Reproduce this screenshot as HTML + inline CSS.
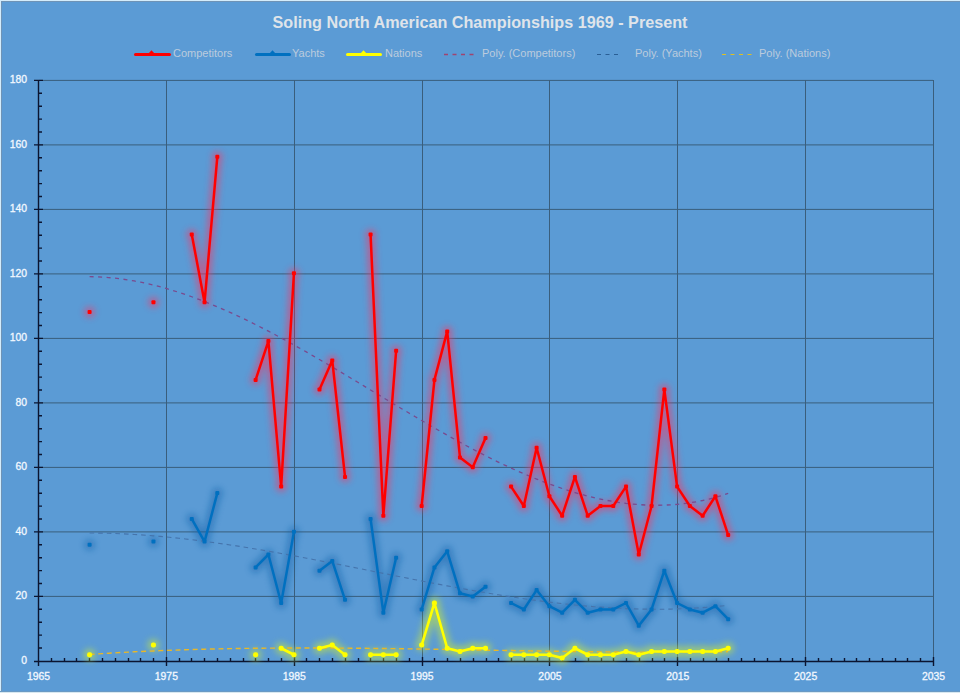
<!DOCTYPE html><html><head><meta charset="utf-8"><style>html,body{margin:0;padding:0}body{width:960px;height:693px;overflow:hidden;background:#5B9BD5}svg{display:block}text{font-family:"Liberation Sans",sans-serif}</style></head><body><svg width="960" height="693" viewBox="0 0 960 693"><defs><filter id="g2" x="0" y="0" width="960" height="693" filterUnits="userSpaceOnUse"><feGaussianBlur stdDeviation="3.4"/></filter></defs><rect x="0" y="0" width="960" height="693" fill="#5B9BD5"/><rect x="0" y="0" width="960" height="1" fill="#d4ecfb"/><rect x="0" y="1" width="960" height="1" fill="#6f93b5"/><rect x="0" y="0" width="1" height="693" fill="#d4ecfb"/><rect x="1" y="1" width="1" height="692" fill="#6f93b5"/><rect x="0" y="692" width="960" height="1" fill="#d8e8f0"/><rect x="0" y="691" width="960" height="1" fill="#6a9ac4"/><path d="M39 80.4H933M39 144.9H933M39 209.4H933M39 273.9H933M39 338.4H933M39 402.9H933M39 467.4H933M39 531.9H933M39 596.4H933M166.5 80V661M294.5 80V661M422.5 80V661M549.5 80V661M677.5 80V661M805.5 80V661M933.5 80V661" stroke="#3a5e7c" stroke-width="1" fill="none"/><path d="M38.5 80V666M34 661.5H934M34 80.4H43M39 93.3H42M39 106.2H42M39 119.1H42M39 132H42M34 144.9H43M39 157.8H42M39 170.7H42M39 183.6H42M39 196.5H42M34 209.4H43M39 222.3H42M39 235.2H42M39 248.1H42M39 261H42M34 273.9H43M39 286.8H42M39 299.7H42M39 312.6H42M39 325.5H42M34 338.4H43M39 351.3H42M39 364.2H42M39 377.1H42M39 390H42M34 402.9H43M39 415.8H42M39 428.7H42M39 441.6H42M39 454.5H42M34 467.4H43M39 480.3H42M39 493.2H42M39 506.1H42M39 519H42M34 531.9H43M39 544.8H42M39 557.7H42M39 570.6H42M39 583.5H42M34 596.4H43M39 609.3H42M39 622.2H42M39 635.1H42M39 648H42M34 661.5H43M38.5 657V666M51.5 658V661M64.5 658V661M76.5 658V661M89.5 658V661M102.5 658V661M115.5 658V661M128.5 658V661M140.5 658V661M153.5 658V661M166.5 657V666M179.5 658V661M191.5 658V661M204.5 658V661M217.5 658V661M230.5 658V661M243.5 658V661M255.5 658V661M268.5 658V661M281.5 658V661M294.5 657V666M306.5 658V661M319.5 658V661M332.5 658V661M345.5 658V661M358.5 658V661M370.5 658V661M383.5 658V661M396.5 658V661M409.5 658V661M422.5 657V666M434.5 658V661M447.5 658V661M460.5 658V661M473.5 658V661M486.5 658V661M498.5 658V661M511.5 658V661M524.5 658V661M537.5 658V661M549.5 657V666M562.5 658V661M575.5 658V661M588.5 658V661M601.5 658V661M613.5 658V661M626.5 658V661M639.5 658V661M652.5 658V661M664.5 658V661M677.5 657V666M690.5 658V661M703.5 658V661M716.5 658V661M728.5 658V661M741.5 658V661M754.5 658V661M767.5 658V661M780.5 658V661M792.5 658V661M805.5 657V666M818.5 658V661M831.5 658V661M844.5 658V661M856.5 658V661M869.5 658V661M882.5 658V661M895.5 658V661M907.5 658V661M920.5 658V661M933.5 657V666" stroke="#0b1430" stroke-width="1.4" fill="none"/><g fill="#f2f8ff" stroke="#f2f8ff" stroke-width="0.3" font-size="10.4"><text x="27" y="83" text-anchor="end">180</text><text x="27" y="147.56" text-anchor="end">160</text><text x="27" y="212.11" text-anchor="end">140</text><text x="27" y="276.67" text-anchor="end">120</text><text x="27" y="341.22" text-anchor="end">100</text><text x="27" y="405.78" text-anchor="end">80</text><text x="27" y="470.33" text-anchor="end">60</text><text x="27" y="534.89" text-anchor="end">40</text><text x="27" y="599.44" text-anchor="end">20</text><text x="27" y="664" text-anchor="end">0</text><text x="38.5" y="680" text-anchor="middle">1965</text><text x="166.36" y="680" text-anchor="middle">1975</text><text x="294.21" y="680" text-anchor="middle">1985</text><text x="422.07" y="680" text-anchor="middle">1995</text><text x="549.93" y="680" text-anchor="middle">2005</text><text x="677.79" y="680" text-anchor="middle">2015</text><text x="805.64" y="680" text-anchor="middle">2025</text><text x="933.5" y="680" text-anchor="middle">2035</text></g><text x="480" y="28" text-anchor="middle" font-size="16.2" font-weight="bold" fill="#dfe4ea">Soling North American Championships 1969 - Present</text><g fill="#bccbdd" font-size="11"><path d="M135.5 54.4H169.5" stroke="#ff0000" stroke-width="3" stroke-linecap="round"/><path d="M147.5 54.5L151.5 50.3L155.5 54.5Z" fill="#ff0000"/><text x="173" y="57">Competitors</text><path d="M256.5 54.4H289.5" stroke="#0070c0" stroke-width="3" stroke-linecap="round"/><path d="M268.5 54.5L272.5 50.3L276.5 54.5Z" fill="#0070c0"/><text x="292" y="57">Yachts</text><path d="M347.5 54.4H380.5" stroke="#ffff00" stroke-width="3" stroke-linecap="round"/><path d="M359.5 54.5L363.5 50.3L367.5 54.5Z" fill="#ffff00"/><text x="385" y="57">Nations</text><path d="M444 54.5H477" stroke="#a04470" stroke-width="1.3" stroke-dasharray="4 4.5"/><text x="482" y="57">Poly. (Competitors)</text><path d="M597 54.5H622" stroke="#2a5f95" stroke-width="1.2" stroke-dasharray="4 4.5"/><text x="635" y="57">Poly. (Yachts)</text><path d="M722 54.5H756" stroke="#e0c020" stroke-width="1.2" stroke-dasharray="4 4.5"/><text x="759" y="57">Poly. (Nations)</text></g><g filter="url(#g2)" opacity="0.5"><path d="M191.76 234.4 L204.54 302.3 L217.31 156.8M255.62 379.9 L268.4 341.1 L281.17 486.6 L293.94 273.2M319.48 389.6 L332.26 360.5 L345.03 476.9M370.57 234.4 L383.34 515.7 L396.12 350.8M421.66 506 L434.43 379.9 L447.2 331.4 L459.98 457.5 L472.75 467.2 L485.52 438.1M511.06 486.6 L523.84 506 L536.61 447.8 L549.38 496.3 L562.15 515.7 L574.92 476.9 L587.7 515.7 L600.47 506 L613.24 506 L626.01 486.6 L638.78 554.5 L651.56 506 L664.33 389.6 L677.1 486.6 L689.87 506 L702.64 515.7 L715.42 496.3 L728.19 535.1" stroke="#ff3060" stroke-width="9" fill="none" stroke-linejoin="round" stroke-linecap="round"/><g fill="#ff3060"><circle cx="89.59" cy="312" r="5.5"/><circle cx="153.45" cy="302.3" r="5.5"/><circle cx="191.76" cy="234.4" r="5.5"/><circle cx="204.54" cy="302.3" r="5.5"/><circle cx="217.31" cy="156.8" r="5.5"/><circle cx="255.62" cy="379.9" r="5.5"/><circle cx="268.4" cy="341.1" r="5.5"/><circle cx="281.17" cy="486.6" r="5.5"/><circle cx="293.94" cy="273.2" r="5.5"/><circle cx="319.48" cy="389.6" r="5.5"/><circle cx="332.26" cy="360.5" r="5.5"/><circle cx="345.03" cy="476.9" r="5.5"/><circle cx="370.57" cy="234.4" r="5.5"/><circle cx="383.34" cy="515.7" r="5.5"/><circle cx="396.12" cy="350.8" r="5.5"/><circle cx="421.66" cy="506" r="5.5"/><circle cx="434.43" cy="379.9" r="5.5"/><circle cx="447.2" cy="331.4" r="5.5"/><circle cx="459.98" cy="457.5" r="5.5"/><circle cx="472.75" cy="467.2" r="5.5"/><circle cx="485.52" cy="438.1" r="5.5"/><circle cx="511.06" cy="486.6" r="5.5"/><circle cx="523.84" cy="506" r="5.5"/><circle cx="536.61" cy="447.8" r="5.5"/><circle cx="549.38" cy="496.3" r="5.5"/><circle cx="562.15" cy="515.7" r="5.5"/><circle cx="574.92" cy="476.9" r="5.5"/><circle cx="587.7" cy="515.7" r="5.5"/><circle cx="600.47" cy="506" r="5.5"/><circle cx="613.24" cy="506" r="5.5"/><circle cx="626.01" cy="486.6" r="5.5"/><circle cx="638.78" cy="554.5" r="5.5"/><circle cx="651.56" cy="506" r="5.5"/><circle cx="664.33" cy="389.6" r="5.5"/><circle cx="677.1" cy="486.6" r="5.5"/><circle cx="689.87" cy="506" r="5.5"/><circle cx="702.64" cy="515.7" r="5.5"/><circle cx="715.42" cy="496.3" r="5.5"/><circle cx="728.19" cy="535.1" r="5.5"/></g></g><g filter="url(#g2)" opacity="0.45"><path d="M191.76 518.93 L204.54 541.57 L217.31 493.07M255.62 567.43 L268.4 554.5 L281.17 603 L293.94 531.87M319.48 570.67 L332.26 560.97 L345.03 599.77M370.57 518.93 L383.34 612.7 L396.12 557.73M421.66 609.47 L434.43 567.43 L447.2 551.27 L459.98 593.3 L472.75 596.53 L485.52 586.83M511.06 603 L523.84 609.47 L536.61 590.07 L549.38 606.23 L562.15 612.7 L574.92 599.77 L587.7 612.7 L600.47 609.47 L613.24 609.47 L626.01 603 L638.78 625.63 L651.56 609.47 L664.33 570.67 L677.1 603 L689.87 609.47 L702.64 612.7 L715.42 606.23 L728.19 619.17" stroke="#0a5ea8" stroke-width="9" fill="none" stroke-linejoin="round" stroke-linecap="round"/><g fill="#0a5ea8"><circle cx="89.59" cy="544.8" r="5.5"/><circle cx="153.45" cy="541.57" r="5.5"/><circle cx="191.76" cy="518.93" r="5.5"/><circle cx="204.54" cy="541.57" r="5.5"/><circle cx="217.31" cy="493.07" r="5.5"/><circle cx="255.62" cy="567.43" r="5.5"/><circle cx="268.4" cy="554.5" r="5.5"/><circle cx="281.17" cy="603" r="5.5"/><circle cx="293.94" cy="531.87" r="5.5"/><circle cx="319.48" cy="570.67" r="5.5"/><circle cx="332.26" cy="560.97" r="5.5"/><circle cx="345.03" cy="599.77" r="5.5"/><circle cx="370.57" cy="518.93" r="5.5"/><circle cx="383.34" cy="612.7" r="5.5"/><circle cx="396.12" cy="557.73" r="5.5"/><circle cx="421.66" cy="609.47" r="5.5"/><circle cx="434.43" cy="567.43" r="5.5"/><circle cx="447.2" cy="551.27" r="5.5"/><circle cx="459.98" cy="593.3" r="5.5"/><circle cx="472.75" cy="596.53" r="5.5"/><circle cx="485.52" cy="586.83" r="5.5"/><circle cx="511.06" cy="603" r="5.5"/><circle cx="523.84" cy="609.47" r="5.5"/><circle cx="536.61" cy="590.07" r="5.5"/><circle cx="549.38" cy="606.23" r="5.5"/><circle cx="562.15" cy="612.7" r="5.5"/><circle cx="574.92" cy="599.77" r="5.5"/><circle cx="587.7" cy="612.7" r="5.5"/><circle cx="600.47" cy="609.47" r="5.5"/><circle cx="613.24" cy="609.47" r="5.5"/><circle cx="626.01" cy="603" r="5.5"/><circle cx="638.78" cy="625.63" r="5.5"/><circle cx="651.56" cy="609.47" r="5.5"/><circle cx="664.33" cy="570.67" r="5.5"/><circle cx="677.1" cy="603" r="5.5"/><circle cx="689.87" cy="609.47" r="5.5"/><circle cx="702.64" cy="612.7" r="5.5"/><circle cx="715.42" cy="606.23" r="5.5"/><circle cx="728.19" cy="619.17" r="5.5"/></g></g><g filter="url(#g2)" opacity="0.55"><path d="M281.17 648.27 L293.94 654.73M319.48 648.27 L332.26 645.03 L345.03 654.73M370.57 654.73 L383.34 654.73 L396.12 654.73M421.66 645.03 L434.43 603 L447.2 648.27 L459.98 651.5 L472.75 648.27 L485.52 648.27M511.06 654.73 L523.84 654.73 L536.61 654.73 L549.38 654.73 L562.15 657.97 L574.92 648.27 L587.7 654.73 L600.47 654.73 L613.24 654.73 L626.01 651.5 L638.78 654.73 L651.56 651.5 L664.33 651.5 L677.1 651.5 L689.87 651.5 L702.64 651.5 L715.42 651.5 L728.19 648.27" stroke="#c8e838" stroke-width="10" fill="none" stroke-linejoin="round" stroke-linecap="round"/><g fill="#c8e838"><circle cx="89.59" cy="654.73" r="6"/><circle cx="153.45" cy="645.03" r="6"/><circle cx="255.62" cy="654.73" r="6"/><circle cx="281.17" cy="648.27" r="6"/><circle cx="293.94" cy="654.73" r="6"/><circle cx="319.48" cy="648.27" r="6"/><circle cx="332.26" cy="645.03" r="6"/><circle cx="345.03" cy="654.73" r="6"/><circle cx="370.57" cy="654.73" r="6"/><circle cx="383.34" cy="654.73" r="6"/><circle cx="396.12" cy="654.73" r="6"/><circle cx="421.66" cy="645.03" r="6"/><circle cx="434.43" cy="603" r="6"/><circle cx="447.2" cy="648.27" r="6"/><circle cx="459.98" cy="651.5" r="6"/><circle cx="472.75" cy="648.27" r="6"/><circle cx="485.52" cy="648.27" r="6"/><circle cx="511.06" cy="654.73" r="6"/><circle cx="523.84" cy="654.73" r="6"/><circle cx="536.61" cy="654.73" r="6"/><circle cx="549.38" cy="654.73" r="6"/><circle cx="562.15" cy="657.97" r="6"/><circle cx="574.92" cy="648.27" r="6"/><circle cx="587.7" cy="654.73" r="6"/><circle cx="600.47" cy="654.73" r="6"/><circle cx="613.24" cy="654.73" r="6"/><circle cx="626.01" cy="651.5" r="6"/><circle cx="638.78" cy="654.73" r="6"/><circle cx="651.56" cy="651.5" r="6"/><circle cx="664.33" cy="651.5" r="6"/><circle cx="677.1" cy="651.5" r="6"/><circle cx="689.87" cy="651.5" r="6"/><circle cx="702.64" cy="651.5" r="6"/><circle cx="715.42" cy="651.5" r="6"/><circle cx="728.19" cy="648.27" r="6"/></g></g><path d="M89.59 276.67 L95.97 276.8 L102.36 277.1 L108.75 277.56 L115.13 278.19 L121.52 278.97 L127.9 279.9 L134.29 280.98 L140.68 282.21 L147.06 283.57 L153.45 285.08 L159.83 286.72 L166.22 288.48 L172.61 290.37 L178.99 292.39 L185.38 294.52 L191.76 296.76 L198.15 299.12 L204.54 301.58 L210.92 304.14 L217.31 306.8 L223.69 309.56 L230.08 312.4 L236.47 315.33 L242.85 318.35 L249.24 321.44 L255.62 324.61 L262.01 327.85 L268.4 331.16 L274.78 334.53 L281.17 337.95 L287.55 341.44 L293.94 344.97 L300.33 348.56 L306.71 352.18 L313.1 355.85 L319.48 359.55 L325.87 363.29 L332.26 367.05 L338.64 370.84 L345.03 374.65 L351.41 378.47 L357.8 382.31 L364.19 386.15 L370.57 390.01 L376.96 393.86 L383.34 397.71 L389.73 401.55 L396.12 405.38 L402.5 409.2 L408.89 412.99 L415.27 416.77 L421.66 420.52 L428.05 424.24 L434.43 427.92 L440.82 431.57 L447.2 435.18 L453.59 438.74 L459.98 442.25 L466.36 445.7 L472.75 449.1 L479.13 452.44 L485.52 455.72 L491.91 458.92 L498.29 462.05 L504.68 465.11 L511.06 468.08 L517.45 470.97 L523.84 473.77 L530.22 476.48 L536.61 479.09 L542.99 481.6 L549.38 484.01 L555.77 486.31 L562.15 488.5 L568.54 490.57 L574.92 492.52 L581.31 494.35 L587.7 496.06 L594.08 497.63 L600.47 499.06 L606.85 500.36 L613.24 501.51 L619.63 502.52 L626.01 503.38 L632.4 504.08 L638.78 504.62 L645.17 505 L651.56 505.22 L657.94 505.26 L664.33 505.14 L670.71 504.83 L677.1 504.34 L683.49 503.67 L689.87 502.8 L696.26 501.74 L702.64 500.49 L709.03 499.03 L715.42 497.37 L721.8 495.5 L728.19 493.42" stroke="#7a4a8e" stroke-width="1.3" fill="none" stroke-dasharray="4 4.5"/><path d="M89.59 533.02 L95.97 533.07 L102.36 533.17 L108.75 533.32 L115.13 533.53 L121.52 533.79 L127.9 534.1 L134.29 534.46 L140.68 534.87 L147.06 535.32 L153.45 535.83 L159.83 536.37 L166.22 536.96 L172.61 537.59 L178.99 538.26 L185.38 538.97 L191.76 539.72 L198.15 540.51 L204.54 541.33 L210.92 542.18 L217.31 543.07 L223.69 543.99 L230.08 544.93 L236.47 545.91 L242.85 546.92 L249.24 547.95 L255.62 549 L262.01 550.08 L268.4 551.19 L274.78 552.31 L281.17 553.45 L287.55 554.61 L293.94 555.79 L300.33 556.99 L306.71 558.19 L313.1 559.42 L319.48 560.65 L325.87 561.9 L332.26 563.15 L338.64 564.41 L345.03 565.68 L351.41 566.96 L357.8 568.24 L364.19 569.52 L370.57 570.8 L376.96 572.09 L383.34 573.37 L389.73 574.65 L396.12 575.93 L402.5 577.2 L408.89 578.46 L415.27 579.72 L421.66 580.97 L428.05 582.21 L434.43 583.44 L440.82 584.66 L447.2 585.86 L453.59 587.05 L459.98 588.22 L466.36 589.37 L472.75 590.5 L479.13 591.61 L485.52 592.71 L491.91 593.77 L498.29 594.82 L504.68 595.84 L511.06 596.83 L517.45 597.79 L523.84 598.72 L530.22 599.63 L536.61 600.5 L542.99 601.33 L549.38 602.14 L555.77 602.9 L562.15 603.63 L568.54 604.32 L574.92 604.97 L581.31 605.58 L587.7 606.15 L594.08 606.68 L600.47 607.15 L606.85 607.59 L613.24 607.97 L619.63 608.31 L626.01 608.59 L632.4 608.83 L638.78 609.01 L645.17 609.13 L651.56 609.21 L657.94 609.22 L664.33 609.18 L670.71 609.08 L677.1 608.91 L683.49 608.69 L689.87 608.4 L696.26 608.05 L702.64 607.63 L709.03 607.14 L715.42 606.59 L721.8 605.97 L728.19 605.27" stroke="#4574ac" stroke-width="1.1" fill="none" stroke-dasharray="4.6 4"/><path d="M89.59 654.47 L95.97 654.04 L102.36 653.63 L108.75 653.23 L115.13 652.86 L121.52 652.49 L127.9 652.15 L134.29 651.82 L140.68 651.51 L147.06 651.21 L153.45 650.93 L159.83 650.66 L166.22 650.41 L172.61 650.18 L178.99 649.95 L185.38 649.74 L191.76 649.55 L198.15 649.36 L204.54 649.19 L210.92 649.04 L217.31 648.89 L223.69 648.76 L230.08 648.64 L236.47 648.53 L242.85 648.43 L249.24 648.34 L255.62 648.26 L262.01 648.2 L268.4 648.14 L274.78 648.09 L281.17 648.06 L287.55 648.03 L293.94 648.01 L300.33 648 L306.71 647.99 L313.1 648 L319.48 648.01 L325.87 648.03 L332.26 648.06 L338.64 648.1 L345.03 648.14 L351.41 648.18 L357.8 648.24 L364.19 648.3 L370.57 648.36 L376.96 648.43 L383.34 648.51 L389.73 648.58 L396.12 648.67 L402.5 648.75 L408.89 648.85 L415.27 648.94 L421.66 649.04 L428.05 649.14 L434.43 649.24 L440.82 649.34 L447.2 649.45 L453.59 649.56 L459.98 649.67 L466.36 649.78 L472.75 649.89 L479.13 650 L485.52 650.12 L491.91 650.23 L498.29 650.34 L504.68 650.45 L511.06 650.56 L517.45 650.67 L523.84 650.78 L530.22 650.88 L536.61 650.99 L542.99 651.09 L549.38 651.18 L555.77 651.28 L562.15 651.37 L568.54 651.46 L574.92 651.54 L581.31 651.62 L587.7 651.7 L594.08 651.77 L600.47 651.84 L606.85 651.9 L613.24 651.95 L619.63 652 L626.01 652.05 L632.4 652.08 L638.78 652.11 L645.17 652.13 L651.56 652.15 L657.94 652.16 L664.33 652.16 L670.71 652.15 L677.1 652.13 L683.49 652.11 L689.87 652.07 L696.26 652.03 L702.64 651.98 L709.03 651.91 L715.42 651.84 L721.8 651.75 L728.19 651.66" stroke="#e8b828" stroke-width="1.4" fill="none" stroke-dasharray="5 3.6"/><path d="M191.76 234.4 L204.54 302.3 L217.31 156.8M255.62 379.9 L268.4 341.1 L281.17 486.6 L293.94 273.2M319.48 389.6 L332.26 360.5 L345.03 476.9M370.57 234.4 L383.34 515.7 L396.12 350.8M421.66 506 L434.43 379.9 L447.2 331.4 L459.98 457.5 L472.75 467.2 L485.52 438.1M511.06 486.6 L523.84 506 L536.61 447.8 L549.38 496.3 L562.15 515.7 L574.92 476.9 L587.7 515.7 L600.47 506 L613.24 506 L626.01 486.6 L638.78 554.5 L651.56 506 L664.33 389.6 L677.1 486.6 L689.87 506 L702.64 515.7 L715.42 496.3 L728.19 535.1" stroke="#ff0000" stroke-width="2.5" fill="none" stroke-linejoin="round"/><g fill="#ff0000"><rect x="87.59" y="310" width="4" height="4" rx="1"/><rect x="151.45" y="300.3" width="4" height="4" rx="1"/><rect x="189.76" y="232.4" width="4" height="4" rx="1"/><rect x="202.54" y="300.3" width="4" height="4" rx="1"/><rect x="215.31" y="154.8" width="4" height="4" rx="1"/><rect x="253.62" y="377.9" width="4" height="4" rx="1"/><rect x="266.4" y="339.1" width="4" height="4" rx="1"/><rect x="279.17" y="484.6" width="4" height="4" rx="1"/><rect x="291.94" y="271.2" width="4" height="4" rx="1"/><rect x="317.48" y="387.6" width="4" height="4" rx="1"/><rect x="330.26" y="358.5" width="4" height="4" rx="1"/><rect x="343.03" y="474.9" width="4" height="4" rx="1"/><rect x="368.57" y="232.4" width="4" height="4" rx="1"/><rect x="381.34" y="513.7" width="4" height="4" rx="1"/><rect x="394.12" y="348.8" width="4" height="4" rx="1"/><rect x="419.66" y="504" width="4" height="4" rx="1"/><rect x="432.43" y="377.9" width="4" height="4" rx="1"/><rect x="445.2" y="329.4" width="4" height="4" rx="1"/><rect x="457.98" y="455.5" width="4" height="4" rx="1"/><rect x="470.75" y="465.2" width="4" height="4" rx="1"/><rect x="483.52" y="436.1" width="4" height="4" rx="1"/><rect x="509.06" y="484.6" width="4" height="4" rx="1"/><rect x="521.84" y="504" width="4" height="4" rx="1"/><rect x="534.61" y="445.8" width="4" height="4" rx="1"/><rect x="547.38" y="494.3" width="4" height="4" rx="1"/><rect x="560.15" y="513.7" width="4" height="4" rx="1"/><rect x="572.92" y="474.9" width="4" height="4" rx="1"/><rect x="585.7" y="513.7" width="4" height="4" rx="1"/><rect x="598.47" y="504" width="4" height="4" rx="1"/><rect x="611.24" y="504" width="4" height="4" rx="1"/><rect x="624.01" y="484.6" width="4" height="4" rx="1"/><rect x="636.78" y="552.5" width="4" height="4" rx="1"/><rect x="649.56" y="504" width="4" height="4" rx="1"/><rect x="662.33" y="387.6" width="4" height="4" rx="1"/><rect x="675.1" y="484.6" width="4" height="4" rx="1"/><rect x="687.87" y="504" width="4" height="4" rx="1"/><rect x="700.64" y="513.7" width="4" height="4" rx="1"/><rect x="713.42" y="494.3" width="4" height="4" rx="1"/><rect x="726.19" y="533.1" width="4" height="4" rx="1"/></g><path d="M191.76 518.93 L204.54 541.57 L217.31 493.07M255.62 567.43 L268.4 554.5 L281.17 603 L293.94 531.87M319.48 570.67 L332.26 560.97 L345.03 599.77M370.57 518.93 L383.34 612.7 L396.12 557.73M421.66 609.47 L434.43 567.43 L447.2 551.27 L459.98 593.3 L472.75 596.53 L485.52 586.83M511.06 603 L523.84 609.47 L536.61 590.07 L549.38 606.23 L562.15 612.7 L574.92 599.77 L587.7 612.7 L600.47 609.47 L613.24 609.47 L626.01 603 L638.78 625.63 L651.56 609.47 L664.33 570.67 L677.1 603 L689.87 609.47 L702.64 612.7 L715.42 606.23 L728.19 619.17" stroke="#0070c0" stroke-width="2.5" fill="none" stroke-linejoin="round"/><g fill="#0070c0"><rect x="87.59" y="542.8" width="4" height="4" rx="1"/><rect x="151.45" y="539.57" width="4" height="4" rx="1"/><rect x="189.76" y="516.93" width="4" height="4" rx="1"/><rect x="202.54" y="539.57" width="4" height="4" rx="1"/><rect x="215.31" y="491.07" width="4" height="4" rx="1"/><rect x="253.62" y="565.43" width="4" height="4" rx="1"/><rect x="266.4" y="552.5" width="4" height="4" rx="1"/><rect x="279.17" y="601" width="4" height="4" rx="1"/><rect x="291.94" y="529.87" width="4" height="4" rx="1"/><rect x="317.48" y="568.67" width="4" height="4" rx="1"/><rect x="330.26" y="558.97" width="4" height="4" rx="1"/><rect x="343.03" y="597.77" width="4" height="4" rx="1"/><rect x="368.57" y="516.93" width="4" height="4" rx="1"/><rect x="381.34" y="610.7" width="4" height="4" rx="1"/><rect x="394.12" y="555.73" width="4" height="4" rx="1"/><rect x="419.66" y="607.47" width="4" height="4" rx="1"/><rect x="432.43" y="565.43" width="4" height="4" rx="1"/><rect x="445.2" y="549.27" width="4" height="4" rx="1"/><rect x="457.98" y="591.3" width="4" height="4" rx="1"/><rect x="470.75" y="594.53" width="4" height="4" rx="1"/><rect x="483.52" y="584.83" width="4" height="4" rx="1"/><rect x="509.06" y="601" width="4" height="4" rx="1"/><rect x="521.84" y="607.47" width="4" height="4" rx="1"/><rect x="534.61" y="588.07" width="4" height="4" rx="1"/><rect x="547.38" y="604.23" width="4" height="4" rx="1"/><rect x="560.15" y="610.7" width="4" height="4" rx="1"/><rect x="572.92" y="597.77" width="4" height="4" rx="1"/><rect x="585.7" y="610.7" width="4" height="4" rx="1"/><rect x="598.47" y="607.47" width="4" height="4" rx="1"/><rect x="611.24" y="607.47" width="4" height="4" rx="1"/><rect x="624.01" y="601" width="4" height="4" rx="1"/><rect x="636.78" y="623.63" width="4" height="4" rx="1"/><rect x="649.56" y="607.47" width="4" height="4" rx="1"/><rect x="662.33" y="568.67" width="4" height="4" rx="1"/><rect x="675.1" y="601" width="4" height="4" rx="1"/><rect x="687.87" y="607.47" width="4" height="4" rx="1"/><rect x="700.64" y="610.7" width="4" height="4" rx="1"/><rect x="713.42" y="604.23" width="4" height="4" rx="1"/><rect x="726.19" y="617.17" width="4" height="4" rx="1"/></g><path d="M281.17 648.27 L293.94 654.73M319.48 648.27 L332.26 645.03 L345.03 654.73M370.57 654.73 L383.34 654.73 L396.12 654.73M421.66 645.03 L434.43 603 L447.2 648.27 L459.98 651.5 L472.75 648.27 L485.52 648.27M511.06 654.73 L523.84 654.73 L536.61 654.73 L549.38 654.73 L562.15 657.97 L574.92 648.27 L587.7 654.73 L600.47 654.73 L613.24 654.73 L626.01 651.5 L638.78 654.73 L651.56 651.5 L664.33 651.5 L677.1 651.5 L689.87 651.5 L702.64 651.5 L715.42 651.5 L728.19 648.27" stroke="#ffff00" stroke-width="2.6" fill="none" stroke-linejoin="round"/><g fill="#ffff00"><rect x="87.09" y="652.23" width="5" height="5" rx="2"/><rect x="150.95" y="642.53" width="5" height="5" rx="2"/><rect x="253.12" y="652.23" width="5" height="5" rx="2"/><rect x="278.67" y="645.77" width="5" height="5" rx="2"/><rect x="291.44" y="652.23" width="5" height="5" rx="2"/><rect x="316.98" y="645.77" width="5" height="5" rx="2"/><rect x="329.76" y="642.53" width="5" height="5" rx="2"/><rect x="342.53" y="652.23" width="5" height="5" rx="2"/><rect x="368.07" y="652.23" width="5" height="5" rx="2"/><rect x="380.84" y="652.23" width="5" height="5" rx="2"/><rect x="393.62" y="652.23" width="5" height="5" rx="2"/><rect x="419.16" y="642.53" width="5" height="5" rx="2"/><rect x="431.93" y="600.5" width="5" height="5" rx="2"/><rect x="444.7" y="645.77" width="5" height="5" rx="2"/><rect x="457.48" y="649" width="5" height="5" rx="2"/><rect x="470.25" y="645.77" width="5" height="5" rx="2"/><rect x="483.02" y="645.77" width="5" height="5" rx="2"/><rect x="508.56" y="652.23" width="5" height="5" rx="2"/><rect x="521.34" y="652.23" width="5" height="5" rx="2"/><rect x="534.11" y="652.23" width="5" height="5" rx="2"/><rect x="546.88" y="652.23" width="5" height="5" rx="2"/><rect x="559.65" y="655.47" width="5" height="5" rx="2"/><rect x="572.42" y="645.77" width="5" height="5" rx="2"/><rect x="585.2" y="652.23" width="5" height="5" rx="2"/><rect x="597.97" y="652.23" width="5" height="5" rx="2"/><rect x="610.74" y="652.23" width="5" height="5" rx="2"/><rect x="623.51" y="649" width="5" height="5" rx="2"/><rect x="636.28" y="652.23" width="5" height="5" rx="2"/><rect x="649.06" y="649" width="5" height="5" rx="2"/><rect x="661.83" y="649" width="5" height="5" rx="2"/><rect x="674.6" y="649" width="5" height="5" rx="2"/><rect x="687.37" y="649" width="5" height="5" rx="2"/><rect x="700.14" y="649" width="5" height="5" rx="2"/><rect x="712.92" y="649" width="5" height="5" rx="2"/><rect x="725.69" y="645.77" width="5" height="5" rx="2"/></g></svg></body></html>
